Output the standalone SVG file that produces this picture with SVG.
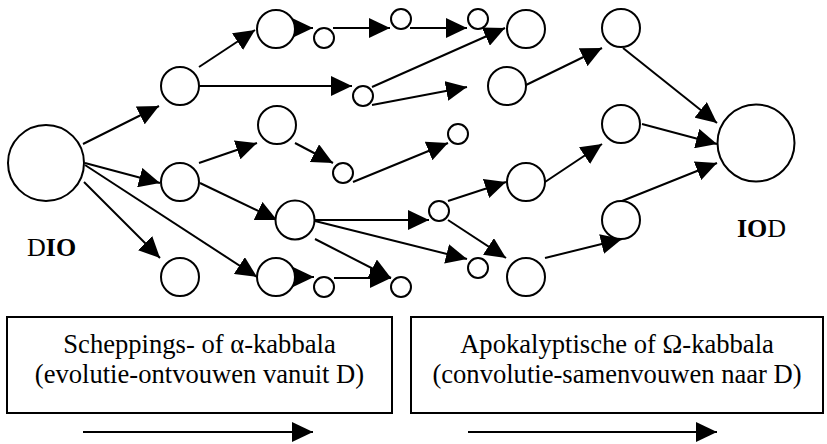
<svg xmlns="http://www.w3.org/2000/svg" width="827" height="444" viewBox="0 0 827 444">
<style>
circle{fill:#fff;stroke:#000;stroke-width:2}
line{stroke:#000;stroke-width:2;marker-end:url(#ah)}
.box{fill:#fff;stroke:#000;stroke-width:2}
text{font-family:"Liberation Serif","Times New Roman",serif;fill:#000}
.lbl{font-size:26px}
.bt{font-size:26.6px;text-anchor:middle}
.b{font-weight:bold}
</style>
<defs>
<marker id="ah" markerUnits="userSpaceOnUse" markerWidth="21" markerHeight="20" refX="21" refY="10" orient="auto">
<path d="M0,0 L21,10 L0,20 z" fill="#000"/>
</marker>
</defs>
<g id="connectors">
<line x1="83" y1="144" x2="159" y2="106"/>
<line x1="199" y1="67" x2="255" y2="30"/>
<line x1="294" y1="28" x2="313" y2="28"/>
<line x1="333" y1="28" x2="390" y2="28"/>
<line x1="410" y1="28" x2="467" y2="28"/>
<line x1="372" y1="87" x2="505" y2="28"/>
<line x1="199" y1="86" x2="352" y2="86"/>
<line x1="372" y1="105" x2="467" y2="87"/>
<line x1="526" y1="85" x2="602" y2="48"/>
<line x1="623" y1="48" x2="717" y2="123"/>
<line x1="642" y1="124" x2="717" y2="144"/>
<line x1="545" y1="182" x2="602" y2="144"/>
<line x1="622" y1="201" x2="717" y2="163"/>
<line x1="545" y1="258" x2="622" y2="239"/>
<line x1="85" y1="163" x2="160" y2="183"/>
<line x1="199" y1="163" x2="257" y2="143"/>
<line x1="200" y1="183" x2="277" y2="220"/>
<line x1="84" y1="182" x2="160" y2="258"/>
<line x1="85" y1="165" x2="257" y2="277"/>
<line x1="295" y1="143" x2="333" y2="163"/>
<line x1="353" y1="182" x2="448" y2="143"/>
<line x1="315" y1="220" x2="429" y2="220"/>
<line x1="448" y1="201" x2="506" y2="182"/>
<line x1="448" y1="220" x2="506" y2="258"/>
<line x1="315" y1="221" x2="467" y2="259"/>
<line x1="315" y1="239" x2="391" y2="278"/>
<line x1="292" y1="277" x2="314" y2="277"/>
<line x1="334" y1="278" x2="391" y2="278"/>
<line x1="83" y1="432" x2="313" y2="432"/>
<line x1="468" y1="432" x2="717" y2="432"/>
</g>
<g id="DIO"><circle cx="46" cy="163" r="38"/><text class="lbl" x="27" y="256">D<tspan class="b">IO</tspan></text></g>
<g id="IOD"><circle cx="756" cy="143" r="38.5"/><text class="lbl" x="737" y="237"><tspan class="b">IO</tspan>D</text></g>
<g id="A1"><circle cx="180" cy="86" r="19"/></g>
<g id="T1"><circle cx="276" cy="29" r="19"/></g>
<g id="S1"><circle cx="324" cy="38" r="10"/></g>
<g id="S2"><circle cx="401" cy="19" r="10"/></g>
<g id="S3"><circle cx="478" cy="19" r="10"/></g>
<g id="T2"><circle cx="526" cy="29" r="19"/></g>
<g id="S4"><circle cx="363" cy="96" r="10"/></g>
<g id="M1"><circle cx="507" cy="86" r="19"/></g>
<g id="T3"><circle cx="621" cy="28" r="19"/></g>
<g id="MID3"><circle cx="621" cy="124" r="19"/></g>
<g id="R2"><circle cx="277" cy="125" r="19"/></g>
<g id="SMTOP"><circle cx="458" cy="134" r="10"/></g>
<g id="SM1"><circle cx="343" cy="173" r="10"/></g>
<g id="M2"><circle cx="180" cy="182" r="19"/></g>
<g id="M3"><circle cx="295" cy="220" r="19.5"/></g>
<g id="SM2"><circle cx="439" cy="211" r="10"/></g>
<g id="C1"><circle cx="526" cy="182" r="19"/></g>
<g id="C3"><circle cx="621" cy="220" r="19"/></g>
<g id="SM3"><circle cx="478" cy="268" r="10"/></g>
<g id="C2"><circle cx="526" cy="277" r="19"/></g>
<g id="B1"><circle cx="180" cy="277" r="19"/></g>
<g id="B2"><circle cx="276" cy="277" r="19"/></g>
<g id="SM5"><circle cx="324" cy="287" r="10"/></g>
<g id="SM4"><circle cx="401" cy="287" r="10"/></g>
<g id="box1"><rect class="box" x="7" y="317" width="385" height="96"/><text class="bt" x="199.5" y="353">Scheppings- of α-kabbala</text><text class="bt" x="199.5" y="383">(evolutie-ontvouwen vanuit D)</text></g>
<g id="box2"><rect class="box" x="411" y="317" width="412" height="96"/><text class="bt" x="617" y="353">Apokalyptische of Ω-kabbala</text><text class="bt" x="617" y="383">(convolutie-samenvouwen naar D)</text></g>
</svg>
